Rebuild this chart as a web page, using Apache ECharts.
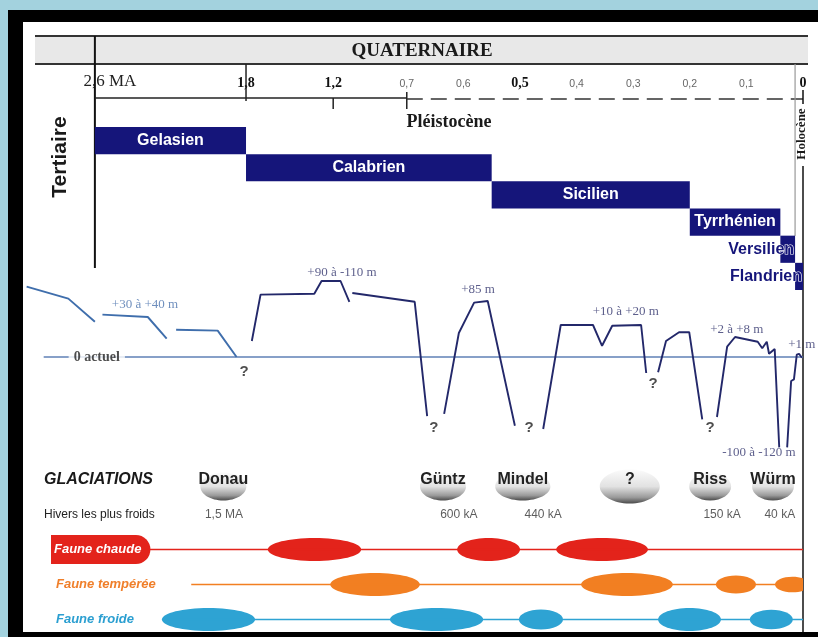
<!DOCTYPE html>
<html>
<head>
<meta charset="utf-8">
<script src="https://cdn.jsdelivr.net/npm/echarts@6/dist/echarts.min.js"></script>
<style>
  html, body { margin: 0; padding: 0; background: #a3d2de; }
  #chart { width: 818px; height: 637px; }
</style>
</head>
<body>
<div id="chart"></div>
<script>
// the figure's time axis is not linear: ages (Ma) -> position on the axis
const AGE_KNOTS = [0, 0.7, 1.2, 1.8, 2.6, 3.0];
const POS_KNOTS = [0, 0.7, 0.83, 0.984, 1.251, 1.385];
const X_MAX = 1.378;

function pos(age) {
  if (age <= 0) return age;
  for (let i = 1; i < AGE_KNOTS.length; i++) {
    if (age <= AGE_KNOTS[i] || i === AGE_KNOTS.length - 1) {
      const t = (age - AGE_KNOTS[i - 1]) / (AGE_KNOTS[i] - AGE_KNOTS[i - 1]);
      return POS_KNOTS[i - 1] + t * (POS_KNOTS[i] - POS_KNOTS[i - 1]);
    }
  }
}

// time ticks
const tickAges = [2.6, 1.8, 1.2, 0.7, 0.6, 0.5, 0.4, 0.3, 0.2, 0.1, 0];
const tickLabels = ["2,6 MA", "1,8", "1,2", "0,7", "0,6", "0,5", "0,4", "0,3", "0,2", "0,1", "0"];

// stages
const stageNames = ["Gelasien", "Calabrien", "Sicilien", "Tyrrhénien", "Versilien", "Flandrien"];
const stageStart = [2.6, 1.8, 0.55, 0.2, 0.04, 0.014];
const stageEnd = [1.8, 0.55, 0.2, 0.04, 0.014, 0];

// sea level (schematic metres), one array per drawn segment
const seaAges = [
  [2.96, 2.74, 2.6],
  [2.56, 2.32, 2.22],
  [2.17, 1.95, 1.85],
  [1.76, 1.70, 1.33, 1.28, 1.15, 1.09],
  [1.07, 0.686, 0.664],
  [0.634, 0.608, 0.581, 0.557, 0.509],
  [0.459, 0.428, 0.371, 0.355, 0.337, 0.286, 0.277],
  [0.256, 0.242, 0.219, 0.201, 0.178],
  [0.152, 0.134, 0.120, 0.080, 0.072, 0.064, 0.060, 0.050, 0.042],
  [0.028, 0.021, 0.016, 0.011, 0.007, 0.002]
];
const seaLevels = [
  [88, 73, 44],
  [53, 50, 23],
  [34, 33, 0],
  [20, 78, 79, 95, 95, 69],
  [80, 69, -74],
  [-71, 30, 68, 70, -86],
  [-90, 40, 40, 14, 39, 40, -20],
  [-19, 20, 31, 31, -78],
  [-75, 13, 25, 19, 11, 19, 4, 10, -113],
  [-113, -30, -28, 3, 4, -1]
];
const zeroLineFrom = 2.87;
const zeroLabelAge = 2.59;

const seaLabelText = ["+30 à +40 m", "+90 à -110 m", "+85 m", "+10 à +20 m", "+2 à +8 m", "+1 m", "-100 à -120 m"];
const seaLabelAges = [2.335, 1.14, 0.574, 0.313, 0.117, 0.002, 0.078];
const seaLabelLevels = [65, 105, 84, 57, 34, 15, -120];

const unknownAges = [1.81, 0.652, 0.484, 0.265, 0.164];
const unknownLevels = [-19, -88, -88, -33, -89];

// glaciations
const glacNames = ["Donau", "Güntz", "Mindel", "?", "Riss", "Würm"];
const glacAges = [1.92, 0.636, 0.495, 0.306, 0.164, 0.053];
const coldText = ["1,5 MA", "600 kA", "440 kA", "150 kA", "40 kA"];
const coldAges = [1.917, 0.608, 0.459, 0.143, 0.041];

// fauna rows
const rowNames = ["GLACIATIONS", "Hivers les plus froids", "Faune chaude", "Faune tempérée", "Faune froide"];
const faunaLineFrom = [2.32, 2.09, 2.245];
const chaudeSpans = [[1.65, 1.01], [0.611, 0.5], [0.436, 0.274]];
const tempereeSpans = [[1.22, 0.677], [0.392, 0.23], [0.154, 0.083], [0.0495, -0.012]];
const froideSpans = [[2.245, 1.738], [0.814, 0.565], [0.502, 0.424], [0.256, 0.145], [0.094, 0.018]];

const SERIF = '"Liberation Serif", "Times New Roman", serif';
const SANS = '"Liberation Sans", Arial, sans-serif';
const NAVY = "#15157a";
const FAUNA_COLORS = ["#e3231b", "#f27f22", "#2ea3d3"];

const chart = echarts.init(document.getElementById("chart"));

function hiddenX(gridIndex) {
  return {
    gridIndex, type: "value", inverse: true, min: 0, max: X_MAX, show: false
  };
}

const seaSeries = seaAges.map((ages, k) => ({
  type: "line",
  xAxisIndex: 1,
  yAxisIndex: 1,
  symbol: "none",
  silent: true,
  z: 4,
  data: ages.map((a, j) => [pos(a), seaLevels[k][j]]),
  lineStyle: { color: k < 3 ? "#3f6eac" : "#23286a", width: 1.9 },
}));

const faunaSpans = [chaudeSpans, tempereeSpans, froideSpans];
const faunaLines = faunaLineFrom.map((a, k) => ({
  type: "line",
  xAxisIndex: 2,
  yAxisIndex: 2,
  symbol: "none",
  silent: true,
  data: [[pos(a), k + 2], [0, k + 2]],
  lineStyle: { color: FAUNA_COLORS[k], width: 1.6 },
}));

const faunaEllipses = {
  type: "custom",
  xAxisIndex: 2,
  yAxisIndex: 2,
  clip: true,
  silent: true,
  data: faunaSpans.flatMap((spans, k) => spans.map((s) => [pos(s[0]), pos(s[1]), k + 2])),
  renderItem: (params, api) => {
    const a = api.coord([api.value(0), api.value(2)]);
    const b = api.coord([api.value(1), api.value(2)]);
    const rx = Math.abs(b[0] - a[0]) / 2;
    return {
      type: "ellipse",
      shape: { cx: (a[0] + b[0]) / 2, cy: a[1], rx: rx, ry: Math.min(11.5, rx * 0.45) },
      style: { fill: FAUNA_COLORS[api.value(2) - 2] },
    };
  },
};

const domes = {
  type: "custom",
  xAxisIndex: 2,
  yAxisIndex: 2,
  silent: true,
  data: glacAges.map((a) => [pos(a), 0]),
  renderItem: (params, api) => {
    const p = api.coord([api.value(0), 0]);
    const name = glacNames[params.dataIndex];
    const rx = name === "?" ? 30 : Math.max(21, name.length * 4.6);
    return {
      type: "group",
      children: [
        {
          type: "ellipse",
          shape: { cx: p[0], cy: p[1] + 7, rx: rx, ry: name === "?" ? 17 : 14 },
          style: {
            fill: new echarts.graphic.LinearGradient(0, 0, 0, 1, [
              { offset: 0, color: "#fbfbfb" },
              { offset: 0.5, color: "#e2e2e2" },
              { offset: 0.82, color: "#9a9a9a" },
              { offset: 1, color: "#4a4a4a" },
            ]),
          },
        },
        {
          type: "text",
          x: p[0],
          y: p[1],
          style: {
            text: name, fill: "#222", font: "bold 16px " + SANS,
            align: "center", verticalAlign: "middle",
          },
        },
      ],
    };
  },
};

const option = {
  backgroundColor: "#a3d2de",
  animation: false,
  grid: [
    { left: 23, right: 15, top: 127, height: 163 },
    { left: 23, right: 15, top: 261, height: 208 },
    { left: 23, right: 15, top: 462, height: 176 },
  ],
  xAxis: [
    {
      gridIndex: 0,
      type: "value",
      position: "top",
      offset: 30,
      inverse: true,
      min: 0,
      max: X_MAX,
      axisLine: { show: false },
      axisTick: { show: false },
      splitLine: { show: false },
      axisLabel: {
        customValues: tickAges.map(pos),
        margin: 7,
        formatter: (v) => {
          const i = tickAges.findIndex((a) => Math.abs(pos(a) - v) < 1e-9);
          const t = tickLabels[i];
          if (i === 0) return "{big|" + t + "}";
          if (["1,8", "1,2", "0,5", "0"].includes(t)) return "{b|" + t + "}";
          return "{s|" + t + "}";
        },
        rich: {
          big: { fontFamily: SERIF, fontSize: 17, color: "#222", padding: [0, 0, 0, 30] },
          b: { fontFamily: SERIF, fontSize: 14, fontWeight: "bold", color: "#111" },
          s: { fontFamily: SANS, fontSize: 10.5, color: "#666" },
        },
      },
    },
    hiddenX(1),
    hiddenX(2),
  ],
  yAxis: [
    { gridIndex: 0, type: "value", min: 0, max: 6, inverse: true, show: false },
    { gridIndex: 1, type: "value", min: -140, max: 120, show: false },
    {
      gridIndex: 2,
      type: "category",
      inverse: true,
      data: rowNames,
      axisLine: { show: false },
      axisTick: { show: false },
      axisLabel: {
        inside: true,
        margin: 21,
        formatter: (v, i) => {
          if (i === 0) return "{g|" + v + "}";
          if (i === 1) return "{h|" + v + "}";
          if (i === 2) return "{sp| }{fc|" + v + "}";
          if (i === 3) return "{sp2| }{ft|" + v + "}";
          return "{sp2| }{ff|" + v + "}";
        },
        rich: {
          g: { fontFamily: SANS, fontSize: 16, fontWeight: "bold", fontStyle: "italic", color: "#1a1a1a" },
          h: { fontFamily: SANS, fontSize: 12, color: "#222" },
          sp: { width: 7 },
          sp2: { width: 12 },
          fc: {
            fontFamily: SANS, fontSize: 13, fontWeight: "bold", fontStyle: "italic", color: "#fff",
            backgroundColor: "#e3231b", padding: [8, 9, 8, 3], borderRadius: [0, 18, 18, 0],
          },
          ft: { fontFamily: SANS, fontSize: 13, fontWeight: "bold", fontStyle: "italic", color: "#f07f2a" },
          ff: { fontFamily: SANS, fontSize: 13, fontWeight: "bold", fontStyle: "italic", color: "#2b9fd1" },
        },
      },
    },
  ],
  series: [
    {
      type: "custom",
      xAxisIndex: 0,
      yAxisIndex: 0,
      silent: true,
      data: stageNames.map((n, i) => [pos(stageStart[i]), pos(stageEnd[i]), i]),
      renderItem: (params, api) => {
        const i = params.dataIndex;
        const a = api.coord([api.value(0), api.value(2)]);
        const b = api.coord([api.value(1), api.value(2) + 1]);
        const x = Math.min(a[0], b[0]);
        const w = Math.abs(b[0] - a[0]);
        const inside = i < 4;
        return {
          type: "group",
          children: [
            { type: "rect", shape: { x: x, y: a[1], width: w, height: b[1] - a[1] }, style: { fill: NAVY } },
            {
              type: "text",
              x: inside ? x + w / 2 : x + w - 1,
              y: (a[1] + b[1]) / 2,
              z2: 10,
              style: {
                text: stageNames[i],
                font: "bold 16px " + SANS,
                fill: inside ? "#fff" : NAVY,
                align: inside ? "center" : "right",
                verticalAlign: "middle",
                stroke: inside ? null : "#fff",
                lineWidth: inside ? 0 : 1.2,
              },
            },
          ],
        };
      },
    },
    {
      type: "line",
      xAxisIndex: 1,
      yAxisIndex: 1,
      symbol: "none",
      silent: true,
      z: 3,
      data: [[pos(zeroLineFrom), 0], [0, 0]],
      lineStyle: { color: "#5f80b6", width: 1.5 },
    },
    ...seaSeries,
    {
      type: "scatter",
      xAxisIndex: 1,
      yAxisIndex: 1,
      symbolSize: 0,
      silent: true,
      clip: false,
      data: seaLabelText.map((t, i) => ({
        name: t,
        value: [pos(seaLabelAges[i]), seaLabelLevels[i]],
        label: { color: i === 0 ? "#4a72ad" : "#33366e" },
      })),
      label: { show: true, position: "inside", formatter: "{b}", fontFamily: SERIF, fontSize: 13 },
    },
    {
      type: "scatter",
      xAxisIndex: 1,
      yAxisIndex: 1,
      symbolSize: 0,
      silent: true,
      clip: false,
      data: unknownAges.map((a, i) => [pos(a), unknownLevels[i]]),
      label: {
        show: true, position: "inside", formatter: "?",
        fontFamily: SANS, fontSize: 15, fontWeight: "bold", color: "#222",
      },
    },
    {
      type: "scatter",
      xAxisIndex: 1,
      yAxisIndex: 1,
      symbolSize: 0,
      silent: true,
      z: 6,
      data: [[pos(zeroLabelAge), 0]],
      label: {
        show: true, position: "inside", formatter: "0 actuel",
        fontFamily: SERIF, fontSize: 14, fontWeight: "bold", color: "#222",
        backgroundColor: "#fff", padding: [1, 5],
      },
    },
    domes,
    {
      type: "scatter",
      xAxisIndex: 2,
      yAxisIndex: 2,
      symbolSize: 0,
      silent: true,
      data: coldText.map((t, i) => ({ name: t, value: [pos(coldAges[i]), 1] })),
      label: { show: true, position: "inside", formatter: "{b}", fontFamily: SANS, fontSize: 12, color: "#333" },
    },
    ...faunaLines,
    faunaEllipses,
  ],
};

chart.setOption(option);

// frame, header band and boundary lines, placed with the time scale
const px = (age) => chart.convertToPixel({ xAxisIndex: 0 }, pos(age));
const x26 = px(2.6), x18 = px(1.8), x12 = px(1.2), x07 = px(0.7), x0 = px(0);
const xHolo = px(stageEnd[4]);
const ink = (x1, y1, x2, y2, color, width, dash) => ({
  type: "line",
  silent: true,
  z: 1,
  shape: { x1, y1, x2, y2 },
  style: { stroke: color, lineWidth: width, lineDash: dash || null },
});
const label = (text, x, y, font, rot) => ({
  type: "text",
  x, y,
  rotation: rot || 0,
  silent: true,
  z: 5,
  style: { text, font, fill: "#1a1a1a", align: "center", verticalAlign: "middle" },
});

chart.setOption({
  graphic: [
    { type: "rect", silent: true, z: -3, shape: { x: 8, y: 10, width: 810, height: 627 }, style: { fill: "#000" } },
    { type: "rect", silent: true, z: -2, shape: { x: 23, y: 22, width: 795, height: 610 }, style: { fill: "#fff" } },
    { type: "rect", silent: true, z: -1, shape: { x: 35, y: 36, width: 773, height: 28 }, style: { fill: "#e8e8e8" } },
    ink(35, 36, 808, 36, "#333", 2),
    ink(35, 64, 808, 64, "#333", 2),
    ink(x26, 36, x26, 268, "#111", 2),
    ink(x18, 64, x18, 101, "#222", 1.5),
    ink(x12, 98, x12, 109, "#222", 1.5),
    ink(x07, 92, x07, 109, "#222", 1.5),
    ink(x26, 98, x07, 98, "#222", 1.6),
    ink(x07, 99, x0, 99, "#333", 1.5, [16, 8]),
    ink(xHolo, 64, xHolo, 236, "#999", 1.2),
    ink(x0, 90, x0, 104, "#111", 1.5),
    ink(x0, 166, x0, 632, "#111", 1.5),
    label("QUATERNAIRE", 422, 51, "bold 19px " + SERIF),
    label("Pléistocène", 449, 122, "bold 18px " + SERIF),
    label("Tertiaire", 60, 157, "bold 21px " + SANS, Math.PI / 2),
    label("Holocène", x0 - 1, 134, "bold 13px " + SERIF, Math.PI / 2),
    { type: "rect", silent: true, z: 50, shape: { x: 8, y: 632, width: 810, height: 5 }, style: { fill: "#000" } },
  ],
});
</script>
</body>
</html>
